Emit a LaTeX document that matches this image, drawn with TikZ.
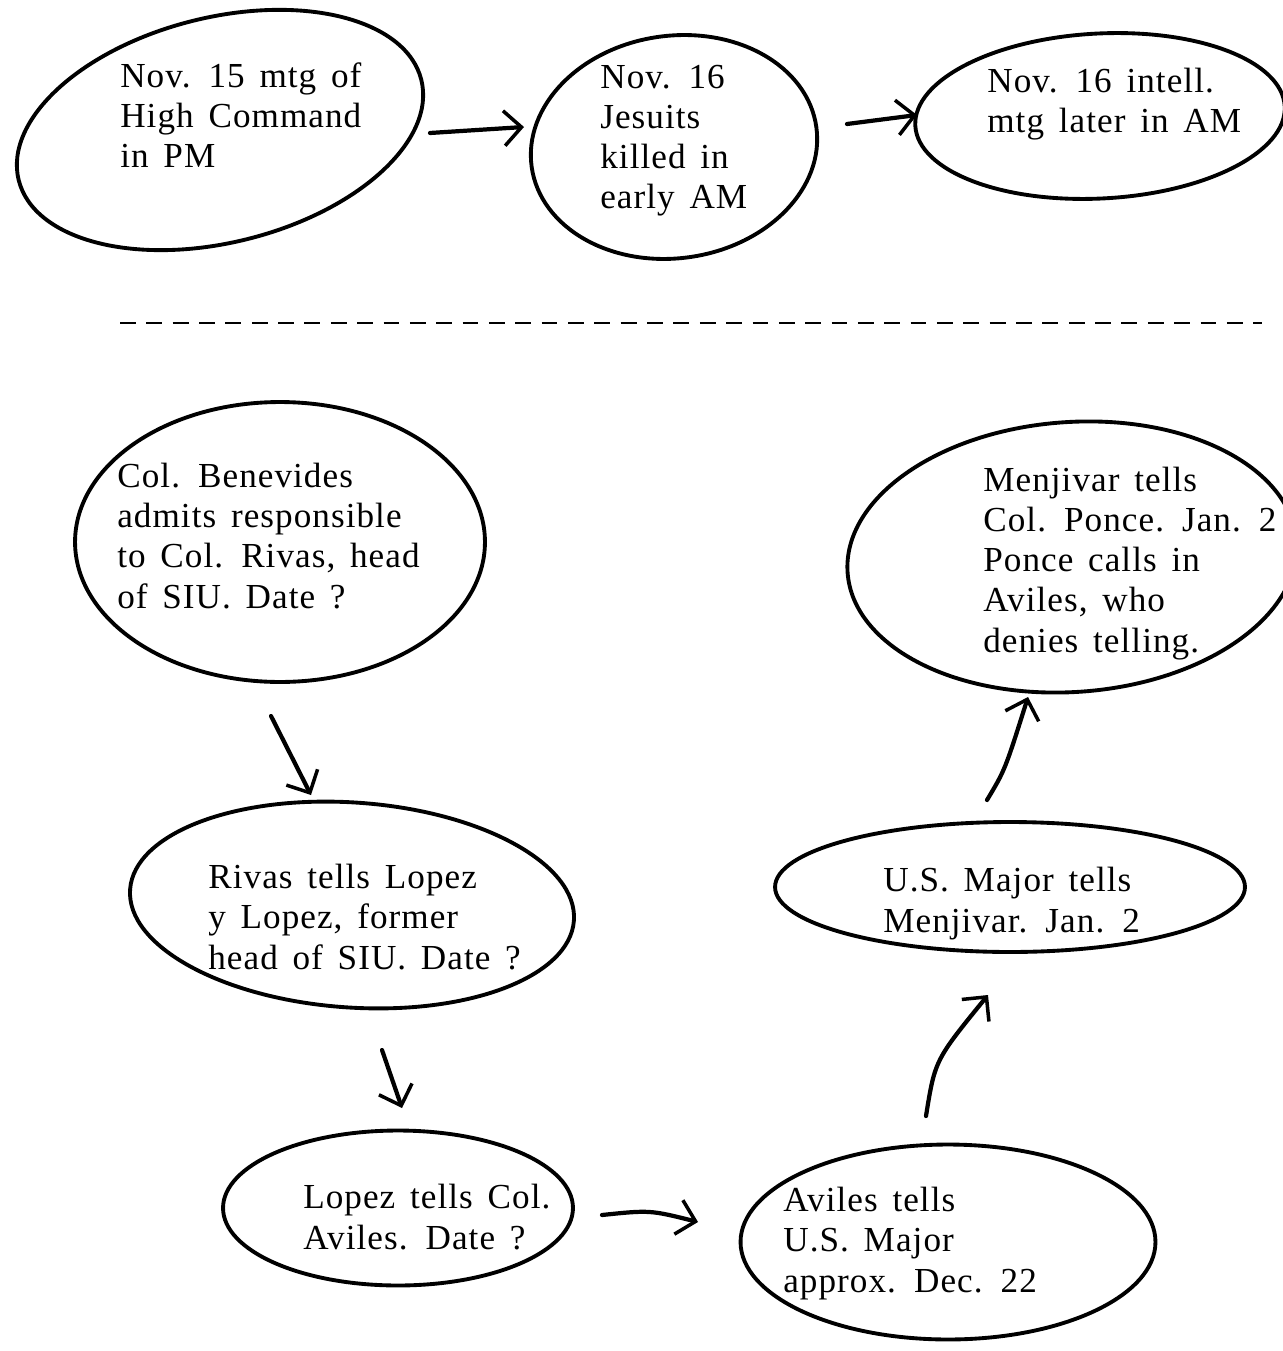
\documentclass[tikz,border=0pt]{standalone}
\usepackage{fontspec}
\setmainfont{Liberation Serif}[LetterSpace=3,WordSpace=1.5]
\usetikzlibrary{shapes.geometric,arrows.meta}
\tikzset{
    blob/.style={ellipse, draw, line width=2.2pt, inner sep=0mm},
    txt/.style={anchor=base west, align=left, inner sep=0mm, font=\fontsize{20}{22.8}\selectfont},
    arr/.style={line width=2.4pt, line cap=round, -{Straight Barb[length=3.5mm,width=7mm,line width=2pt]}}
}

\begin{document}
\begin{tikzpicture}[x=0.02cm, y=-0.02cm]
        \useasboundingbox (0,0) rectangle (1283,1351);
        \node (b1) [blob, minimum width=8.3cm, minimum height=4.5cm, rotate=14] at (220,130) {};
        \node (b2) [blob, minimum width=5.75cm, minimum height=4.45cm, rotate=8] at (674,147) {};
        \node (b3) [blob, minimum width=7.4cm, minimum height=3.3cm, rotate=3] at (1100,116) {};
        \node (b4) [blob, minimum width=8.2cm, minimum height=5.6cm] at (280,542) {};
        \node (b5) [blob, minimum width=9.0cm, minimum height=5.4cm, rotate=4] at (1072,557) {};
        \node (b6) [blob, minimum width=8.9cm, minimum height=4.1cm, rotate=-4] at (352,905) {};
        \node (b7) [blob, minimum width=7.0cm, minimum height=3.1cm] at (398,1208) {};
        \node (b8) [blob, minimum width=8.3cm, minimum height=3.9cm] at (948,1242) {};
        \node (b9) [blob, minimum width=9.4cm, minimum height=2.6cm] at (1010,887) {};
        \node (t1) [txt] at (120,168) {Nov. 15 mtg of\\High Command\\in PM};
        \node (t2) [txt] at (600,209) {Nov. 16\\Jesuits\\killed in\\early AM};
        \node (t3) [txt] at (987,133) {Nov. 16 intell.\\mtg later in AM};
        \node (t4) [txt] at (117,608) {Col. Benevides\\admits responsible\\to Col. Rivas, head\\of SIU. Date ?};
        \node (t5) [txt] at (983,652) {Menjivar tells\\Col. Ponce. Jan. 2\\Ponce calls in\\Aviles, who\\denies telling.};
        \node (t6) [txt] at (208,969) {Rivas tells Lopez\\y Lopez, former\\head of SIU. Date ?};
        \node (t7) [txt] at (303,1249) {Lopez tells Col.\\Aviles. Date ?};
        \node (t8) [txt] at (783,1292) {Aviles tells\\U.S. Major\\approx. Dec. 22};
        \node (t9) [txt] at (883,932) {U.S. Major tells\\Menjivar. Jan. 2};
        \coordinate (a1s) at (430,133);
        \coordinate (a1e) at (524,127);
        \coordinate (a2s) at (847,124);
        \coordinate (a2e) at (917,115);
        \coordinate (a3s) at (271,716);
        \coordinate (a3e) at (311,795);
        \coordinate (a4s) at (382,1050);
        \coordinate (a4e) at (402,1108);
        \coordinate (a5s) at (602,1215);
        \coordinate (a5e) at (698,1222);
        \coordinate (a6s) at (926,1116);
        \coordinate (a6e) at (988,995);
        \coordinate (a7s) at (987,800);
        \coordinate (a7e) at (1028,697);
        \coordinate (dl) at (120,323);
        \coordinate (dr) at (1262,323);
        \draw [arr] (a1s) -- (a1e);
        \draw [arr] (a2s) -- (a2e);
        \draw [arr] (a3s) -- (a3e);
        \draw [arr] (a4s) -- (a4e);
        \draw [arr] (a5s) .. controls (650,1210) .. (a5e);
        \draw [arr] (a6s) .. controls (935,1060) .. (a6e);
        \draw [arr] (a7s) .. controls (1005,770) .. (a7e);
        \draw [line width=0.8pt, dash pattern=on 9pt off 6pt] (dl) -- (dr);
\end{tikzpicture}
\end{document}
